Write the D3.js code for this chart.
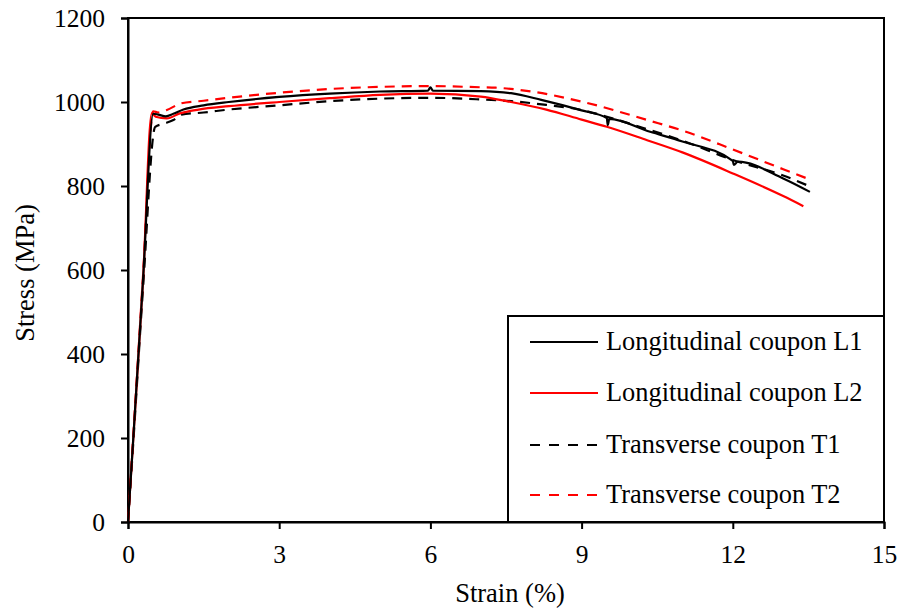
<!DOCTYPE html>
<html>
<head>
<meta charset="utf-8">
<script src="https://cdn.jsdelivr.net/npm/d3@7"></script>
<style>
  body { margin: 0; background: #fff; }
  svg { display: block; font-family: "Liberation Serif", "Times New Roman", serif; }
</style>
</head>
<body>
<svg id="chart" width="903" height="610"></svg>
<script>
// ---- Data ----
const xTicks = [0, 3, 6, 9, 12, 15];
const yTicks = [0, 200, 400, 600, 800, 1000, 1200];

const seriesNames = ["Longitudinal coupon L1", "Longitudinal coupon L2", "Transverse coupon T1", "Transverse coupon T2"];
const seriesColors = ["#000000", "#ff0000", "#000000", "#ff0000"];
const seriesDashed = [false, false, true, true];

const strainL1 = [0, 0.1, 0.3, 0.5, 0.6, 0.75, 0.9, 1.1, 1.5, 2, 3, 4, 5, 5.95, 6.0, 6.05, 7, 7.6, 8.2, 9.0, 9.5, 9.52, 9.55, 10.36, 11, 12, 12.02, 12.1, 13, 13.53];
const stressL1 = [0, 190, 580, 972, 970, 966, 972, 982, 992, 1000, 1012, 1020, 1025, 1027, 1035, 1027, 1026, 1021, 1005, 980, 962, 945, 960, 929, 906, 860, 850, 858, 818, 786];

const strainL2 = [0, 0.1, 0.3, 0.47, 0.55, 0.77, 1.03, 1.4, 2, 3, 4, 5, 6, 7, 7.6, 8.3, 9, 9.5, 10.3, 11, 12, 13, 13.4];
const stressL2 = [0, 190, 580, 973, 965, 961, 973, 982, 990, 1000, 1009, 1017, 1020, 1013, 1000, 982, 958, 941, 909, 880, 830, 776, 752];

const strainT1 = [0, 0.1, 0.3, 0.54, 0.7, 0.9, 1.06, 1.5, 2, 3, 4, 5, 6, 7, 7.6, 8.3, 9, 9.5, 10.36, 11, 12, 13, 13.47];
const stressT1 = [0, 180, 560, 941, 948, 957, 970, 975, 982, 992, 1002, 1008, 1010, 1006, 1002, 993, 981, 965, 933, 908, 862, 825, 802];

const strainT2 = [0, 0.1, 0.3, 0.5, 0.6, 0.77, 1.06, 1.5, 2, 3, 4, 5, 6, 7, 7.3, 8, 9, 10.36, 11, 12, 13, 13.56];
const stressT2 = [0, 195, 590, 978, 975, 981, 997, 1003, 1010, 1022, 1031, 1036, 1038, 1035, 1034, 1025, 1001, 955, 932, 887, 840, 814];

const strains = [strainL1, strainL2, strainT1, strainT2];
const stresses = [stressL1, stressL2, stressT1, stressT2];

// ---- Layout ----
const svg = d3.select("#chart");
const mLeft = 128, mRight = 884, mTop = 18, mBottom = 522;
const fontStack = '"Liberation Serif", "Times New Roman", serif';

const x = d3.scaleLinear().domain([0, 15]).range([mLeft, mRight]);
const y = d3.scaleLinear().domain([0, 1200]).range([mBottom, mTop]);

// frame
svg.append("rect")
  .attr("x", mLeft).attr("y", mTop)
  .attr("width", mRight - mLeft).attr("height", mBottom - mTop)
  .attr("fill", "none").attr("stroke", "#000").attr("stroke-width", 2);

// axes
const xAxis = d3.axisBottom(x).tickValues(xTicks).tickSize(7).tickPadding(16).tickFormat(d3.format("d"));
const yAxis = d3.axisLeft(y).tickValues(yTicks).tickSize(7).tickPadding(16).tickFormat(d3.format("d"));

const gx = svg.append("g").attr("transform", `translate(0,${mBottom})`).call(xAxis);
const gy = svg.append("g").attr("transform", `translate(${mLeft},0)`).call(yAxis);
[gx, gy].forEach(g => {
  g.select(".domain").attr("stroke", "#000").attr("stroke-width", 2);
  g.selectAll(".tick line").attr("stroke", "#000").attr("stroke-width", 2);
  g.selectAll(".tick text").attr("fill", "#000").style("font-size", "25.5px")
    .style("font-family", fontStack);
});

// axis titles
svg.append("text")
  .attr("x", 510).attr("y", 602)
  .attr("text-anchor", "middle").style("font-size", "26.5px").text("Strain (%)");
svg.append("text")
  .attr("transform", `translate(34,273) rotate(-90)`)
  .attr("text-anchor", "middle").style("font-size", "26.5px").text("Stress (MPa)");

// lines
const line = d3.line().x(d => x(d[0])).y(d => y(d[1])).curve(d3.curveMonotoneX);

const drawOrder = [3, 2, 1, 0];
drawOrder.forEach(i => {
  const pts = strains[i].map((s, k) => [s, stresses[i][k]]);
  svg.append("path")
    .datum(pts)
    .attr("d", line)
    .attr("fill", "none")
    .attr("stroke", seriesColors[i])
    .attr("stroke-width", 2.2)
    .attr("stroke-linejoin", "round")
    .attr("stroke-dasharray", seriesDashed[i] ? "10,7" : null);
});

// legend
const lg = svg.append("g");
lg.append("rect")
  .attr("x", 508).attr("y", 316).attr("width", mRight - 508).attr("height", mBottom - 316)
  .attr("fill", "#fff").attr("stroke", "#000").attr("stroke-width", 2);
const rowY = [342, 393, 445, 495];
seriesNames.forEach((name, i) => {
  lg.append("line")
    .attr("x1", 530).attr("x2", 598).attr("y1", rowY[i]).attr("y2", rowY[i])
    .attr("stroke", seriesColors[i]).attr("stroke-width", 2)
    .attr("stroke-dasharray", seriesDashed[i] ? "10,9" : null);
  lg.append("text")
    .attr("x", 606).attr("y", rowY[i] + 8)
    .style("font-size", "26.4px").text(name);
});
</script>
</body>
</html>
